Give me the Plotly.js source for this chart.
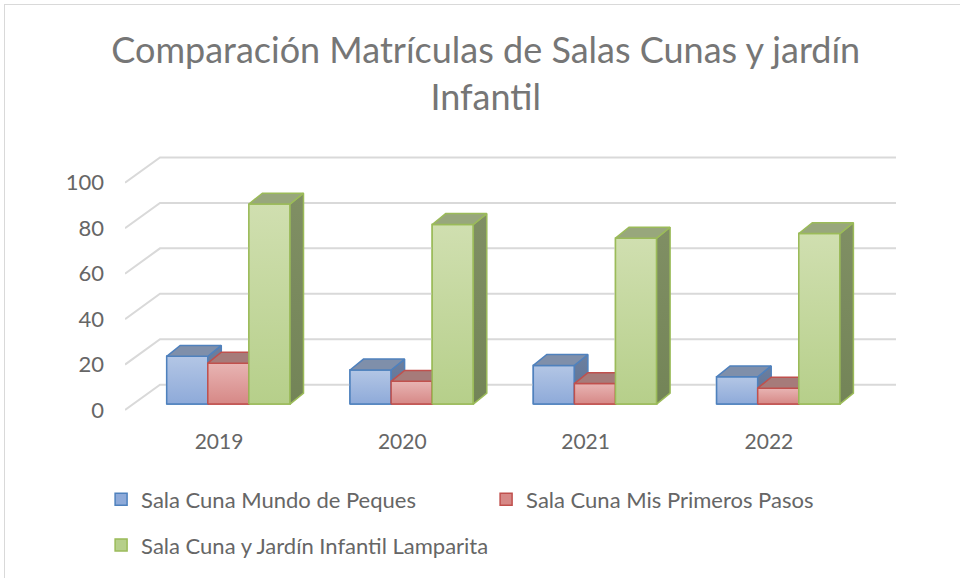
<!DOCTYPE html>
<html>
<head>
<meta charset="utf-8">
<script src="https://cdn.plot.ly/plotly-3.0.1.min.js"></script>
<style>
  html, body { margin: 0; padding: 0; background: #ffffff; }
  #frame { position: absolute; left: 4px; top: 4px; width: 1000px; height: 1000px; border: 1px solid #d9d9d9; box-sizing: border-box; }
  #chart { position: absolute; left: 0; top: 0; width: 960px; height: 578px; }
</style>
</head>
<body>
<div id="frame"></div>
<div id="chart"></div>
<script>
// ---- data ----
const categories = ['2019', '2020', '2021', '2022'];
const seriesNames = ['Sala Cuna Mundo de Peques', 'Sala Cuna Mis Primeros Pasos', 'Sala Cuna y Jardín Infantil Lamparita'];
const mundoDePeques = [21, 15, 17, 12];
const misPrimerosPasos = [18, 10, 9, 7];
const lamparita = [88, 79, 73, 75];
const yTicks = [0, 20, 40, 60, 80, 100];

// ---- styles ----
const seriesValues = [mundoDePeques, misPrimerosPasos, lamparita];
const borderColors = ['#4f81bd', '#c0504d', '#9bbb59'];
const frontTop = ['#b3c6e5', '#e8b4b3', '#d0dfb0'];
const frontBottom = ['#8eaad9', '#d68886', '#b6cf8a'];
const topColors = ['#7f8faa', '#a67b7a', '#98a77c'];
const sideTop = ['#6c7f9f', '#9a6a69', '#808f64'];
const sideBottom = ['#5d7194', '#8a5a59', '#738457'];
const textColor = '#666666';
const titleColor = '#767676';
const gridColor = '#d9d9d9';
const fontFam = 'Lato, "Open Sans", sans-serif';
const legendOf = ['legend', 'legend', 'legend2'];

// plot geometry (pixels) -> axis units
const L = 125, R = 896, T = 148, B = 416;
const XS = 183.3, X0PX = 219;   // px per category, pixel of first category
const YS = 2.29, Y0PX = 412;    // px per unit, pixel of value 0 (front plane)
const xRange = [(L - X0PX) / XS, (R - X0PX) / XS];
const yRange = [(Y0PX - B) / YS, (Y0PX - T) / YS];
const WDX = 35 / XS, WDY = 25.5 / YS;   // wall depth
const BW = 41.1 / XS;                    // bar width
const OFF0 = (166.7 - X0PX) / XS;        // first bar left edge rel. to category
const BASE = 6 / YS;                     // bar front base (depth offset)
const BDX = 13.5 / XS, BDY = 11 / YS;    // bar depth

const traces = [];

// back wall gridlines and left wall diagonals
const gx = [], gy = [];
yTicks.forEach(v => {
  gx.push(xRange[0], xRange[0] + WDX, xRange[1], null);
  gy.push(v, v + WDY, v + WDY, null);
});
traces.push({
  type: 'scatter', mode: 'lines', x: gx, y: gy,
  line: { color: gridColor, width: 2 }, showlegend: false, hoverinfo: 'skip'
});

// bar traces (front faces + legend)
seriesValues.forEach((vals, s) => {
  traces.push({
    type: 'bar', name: seriesNames[s], legend: legendOf[s],
    x: categories.map((c, i) => i), y: vals,
    base: BASE, width: BW, offset: OFF0 + s * BW,
    marker: { color: frontBottom[s], line: { color: borderColors[s], width: 1.5 } },
    hoverinfo: 'skip'
  });
});

// 3D faces
function poly(xs, ys, line, grad, fill) {
  const t = {
    type: 'scatter', mode: 'lines', fill: 'toself',
    x: xs.concat([xs[0]]), y: ys.concat([ys[0]]),
    line: { color: line, width: 1.5 },
    showlegend: false, hoverinfo: 'skip'
  };
  if (grad) t.fillgradient = { type: 'vertical', colorscale: grad };
  else t.fillcolor = fill;
  return t;
}
categories.forEach((c, i) => {
  seriesValues.forEach((vals, s) => {
    const xl = i + OFF0 + s * BW, xr = xl + BW;
    const b = BASE, t = BASE + vals[i];
    traces.push(poly([xl, xr, xr, xl], [b, b, t, t], borderColors[s],
      [[0, frontBottom[s]], [1, frontTop[s]]]));
    traces.push(poly([xr, xr, xr + BDX, xr + BDX], [b, t, t + BDY, b + BDY], borderColors[s],
      [[0, sideBottom[s]], [1, sideTop[s]]]));
    traces.push(poly([xl, xr, xr + BDX, xl + BDX], [t, t, t + BDY, t + BDY], borderColors[s],
      null, topColors[s]));
  });
});

const legendBase = {
  orientation: 'h', x: -0.031, xanchor: 'left', yanchor: 'top',
  entrywidth: 340, entrywidthmode: 'pixels',
  font: { family: fontFam, size: 22, color: textColor },
  itemwidth: 30, traceorder: 'normal', bgcolor: 'rgba(0,0,0,0)'
};

const layout = {
  width: 960, height: 578,
  margin: { l: L, r: 960 - R, t: T, b: 578 - B, pad: 0 },
  paper_bgcolor: 'rgba(0,0,0,0)', plot_bgcolor: 'rgba(0,0,0,0)',
  font: { family: fontFam, color: textColor, size: 22 },
  title: {
    text: 'Comparación Matrículas de Salas Cunas y jardín<br>Infantil',
    font: { family: fontFam, size: 36, color: titleColor },
    x: 0.506, xanchor: 'center', xref: 'container',
    y: 0.891, yanchor: 'top', yref: 'container'
  },
  barmode: 'overlay',
  hovermode: false,
  showlegend: true,
  xaxis: {
    range: xRange, tickmode: 'array', tickvals: categories.map((c, i) => i), ticktext: categories,
    showgrid: false, zeroline: false, showline: false, ticks: '',
    tickfont: { family: fontFam, size: 21, color: textColor },
    ticklabelstandoff: 13, fixedrange: true
  },
  yaxis: {
    range: yRange, tickmode: 'array', tickvals: yTicks,
    showgrid: false, zeroline: false, showline: false, ticks: '',
    tickfont: { family: fontFam, size: 22, color: textColor },
    ticklabelstandoff: 20, fixedrange: true
  },
  legend: Object.assign({}, legendBase, { y: -0.2425 }),
  legend2: Object.assign({}, legendBase, { y: -0.414, entrywidth: 420 })
};

Plotly.newPlot('chart', traces, layout, { displayModeBar: false, staticPlot: true });
</script>
</body>
</html>
